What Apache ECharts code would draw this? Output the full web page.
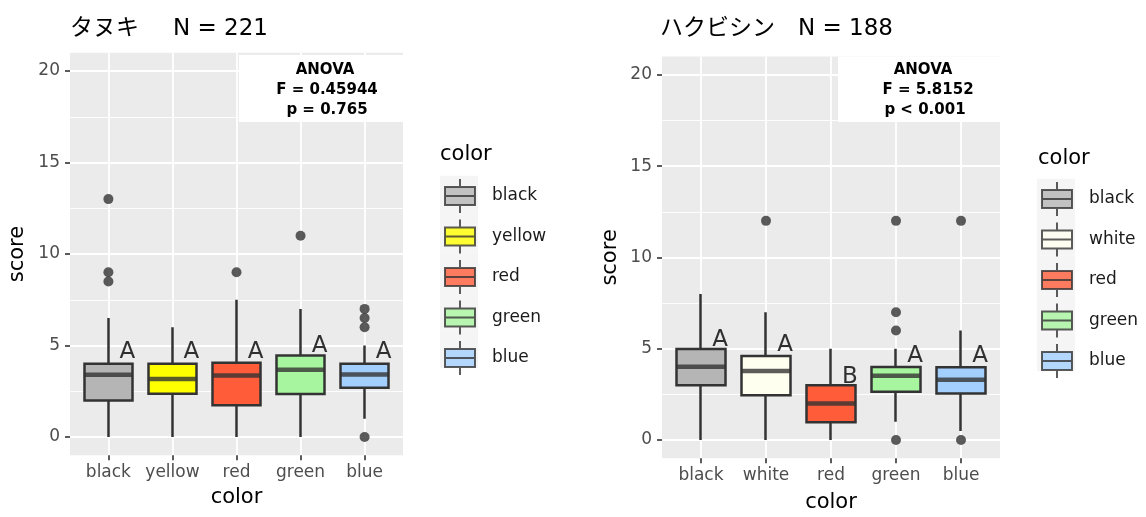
<!DOCTYPE html>
<html>
<head>
<meta charset="utf-8">
<script src="https://cdn.jsdelivr.net/npm/echarts@6/dist/echarts.min.js"></script>
<style>
  html, body { margin: 0; padding: 0; background: #fff; }
  #chart { width: 1146px; height: 517px; }
</style>
</head>
<body>
<div id="chart"></div>
<script>
// タヌキ (left panel)
const catsL = ['black', 'yellow', 'red', 'green', 'blue']
const fillL = ['#b5b5b5', '#ffff00', '#ff5c3a', '#a8f5a0', '#a3cfff']
const loL = [0, 0, 0, 0, 1]
const q1L = [2.0, 2.37, 1.73, 2.35, 2.69]
const medL = [3.4, 3.17, 3.36, 3.68, 3.42]
const q3L = [4.0, 4.0, 4.06, 4.46, 4.0]
const hiL = [6.5, 6, 7.5, 7, 5]
const outL = [[0, 13], [0, 9], [0, 8.5], [2, 9], [3, 11], [4, 7], [4, 6.5], [4, 6], [4, 0]]
const letterL = ['A', 'A', 'A', 'A', 'A']
const letterYL = [4.66, 4.66, 4.66, 4.97, 4.66]

// ハクビシン (right panel)
const catsR = ['black', 'white', 'red', 'green', 'blue']
const fillR = ['#b5b5b5', '#fffff0', '#ff5c3a', '#a8f5a0', '#a3cfff']
const loR = [0, 0, 0, 1, 0.5]
const q1R = [3.0, 2.45, 0.97, 2.64, 2.55]
const medR = [4.01, 3.78, 2.0, 3.52, 3.3]
const q3R = [4.98, 4.6, 3.0, 4.0, 3.98]
const hiR = [8, 7, 5, 5, 6]
const outR = [[1, 12], [3, 12], [3, 7], [3, 6], [3, 0], [4, 12], [4, 0]]
const letterR = ['A', 'A', 'B', 'A', 'A']
const letterYR = [5.47, 5.2, 3.47, 4.6, 4.6]

const yTicks = { min: 0, max: 20, interval: 5 }

const FONT = 'DejaVu Sans'
const JP = "'DejaVu Sans', 'Noto Sans CJK JP'"
const keyIcon = 'path://M15,0L15,8M0,8L30,8L30,26L0,26ZM0,17L30,17M15,26L15,34'

const chart = echarts.init(document.getElementById('chart'))

// three grids per panel: background, y scale (0-20), category scale
const panels = [
  { bg: { left: 70, top: 52.7, width: 333, height: 402.6 },
    ys: { left: 70, top: 71, width: 333, height: 366 },
    xs: { left: 108.4, top: 52.7, width: 256.2, height: 402.6 },
    nameGapY: 42, nameGapX: 32 },
  { bg: { left: 662, top: 56.5, width: 338, height: 401.8 },
    ys: { left: 662, top: 74.8, width: 338, height: 365.2 },
    xs: { left: 701, top: 56.5, width: 260, height: 401.8 },
    nameGapY: 41, nameGapX: 34 }
]

const grid = [], xAxis = [], yAxis = []
panels.forEach((p, k) => {
  const base = k * 3
  grid.push(Object.assign({ show: true, backgroundColor: '#ebebeb', borderWidth: 0, outerBoundsMode: 'none' }, p.bg))
  grid.push(Object.assign({ show: false, outerBoundsMode: 'none' }, p.ys))
  grid.push(Object.assign({ show: false, outerBoundsMode: 'none' }, p.xs))

  xAxis.push({ gridIndex: base, type: 'value', min: 0, max: 1, show: false })
  yAxis.push({ gridIndex: base, type: 'value', min: 0, max: 1, show: false })

  xAxis.push({ gridIndex: base + 1, type: 'value', min: 0, max: 1, show: false })
  yAxis.push({
    gridIndex: base + 1, type: 'value', min: yTicks.min, max: yTicks.max, interval: yTicks.interval,
    z: 1,
    axisLine: { show: false, onZero: false },
    axisTick: { show: true, length: 5, lineStyle: { color: '#333', width: 1.6 } },
    axisLabel: { color: '#4d4d4d', fontSize: 17, fontFamily: FONT, margin: 10 },
    splitLine: { show: true, lineStyle: { color: '#fff', width: 1.8 } },
    minorTick: { show: false, splitNumber: 2 },
    minorSplitLine: { show: true, lineStyle: { color: '#fff', width: 0.9 } },
    name: 'score', nameLocation: 'middle', nameGap: p.nameGapY,
    nameTextStyle: { fontSize: 21, color: '#000', fontFamily: FONT }
  })

  xAxis.push({
    gridIndex: base + 2, type: 'category', data: k === 0 ? catsL : catsR, boundaryGap: false,
    position: 'bottom', z: 1,
    axisLine: { show: false, onZero: false },
    axisTick: { show: true, length: 5, lineStyle: { color: '#333', width: 1.6 } },
    axisLabel: { color: '#4d4d4d', fontSize: 17, fontFamily: FONT, margin: 9, interval: 0 },
    splitLine: { show: true, lineStyle: { color: '#fff', width: 1.8 } },
    name: 'color', nameLocation: 'middle', nameGap: p.nameGapX,
    nameTextStyle: { fontSize: 21, color: '#000', fontFamily: FONT }
  })
  yAxis.push({ gridIndex: base + 2, type: 'value', min: -1, max: 21, show: false })
})

function panelSeries(k, cats, fills, lo, q1, med, q3, hi, outs, letters, letterY) {
  const ax = k * 3 + 2
  const list = []
  list.push({
    type: 'candlestick', xAxisIndex: ax, yAxisIndex: ax, barWidth: 49, clip: false, z: 3,
    data: cats.map((c, i) => ({
      value: [q1[i], q3[i], lo[i], hi[i]],
      itemStyle: { color: fills[i], color0: fills[i], borderColor: '#333', borderColor0: '#333', borderWidth: 2.5 }
    }))
  })
  list.push({
    type: 'scatter', xAxisIndex: ax, yAxisIndex: ax, clip: false, z: 4,
    symbol: 'rect', symbolSize: [49, 4.5], itemStyle: { color: '#333' },
    data: cats.map((c, i) => [i, med[i]])
  })
  list.push({
    type: 'scatter', xAxisIndex: ax, yAxisIndex: ax, clip: false, z: 4,
    symbolSize: 10, itemStyle: { color: '#333' },
    data: outs
  })
  list.push({
    type: 'scatter', xAxisIndex: ax, yAxisIndex: ax, clip: false, z: 5,
    symbolSize: 1, itemStyle: { color: 'rgba(0,0,0,0)' },
    label: {
      show: true, position: 'inside', offset: [19, 0],
      formatter: (p) => letters[p.dataIndex],
      fontSize: 23, color: '#000', fontFamily: FONT
    },
    data: cats.map((c, i) => [i, letterY[i]])
  })
  // legend entries
  cats.forEach((c, i) => {
    list.push({
      type: 'scatter', name: c, xAxisIndex: ax, yAxisIndex: ax,
      itemStyle: { color: fills[i] }, data: []
    })
  })
  return list
}

const series = [].concat(
  panelSeries(0, catsL, fillL, loL, q1L, medL, q3L, hiL, outL, letterL, letterYL),
  panelSeries(1, catsR, fillR, loR, q1R, medR, q3R, hiR, outR, letterR, letterYR)
)

function keyLegends(cats, left, top) {
  return [
    {
      orient: 'vertical', left: left - 4, top: top - 2.25, padding: 0,
      itemWidth: 38, itemHeight: 38.5, itemGap: 0, icon: 'rect',
      itemStyle: { color: '#f2f2f2', borderWidth: 0 },
      formatter: () => '', selectedMode: false, data: cats, z: 3
    },
    {
      orient: 'vertical', left: left, top: top, padding: 0,
      itemWidth: 30, itemHeight: 34, itemGap: 4.5, icon: keyIcon,
      itemStyle: { borderColor: '#333', borderWidth: 2 },
      textStyle: { fontSize: 17, color: '#1a1a1a', fontFamily: FONT, padding: [0, 0, 0, 12] },
      selectedMode: false, data: cats, z: 4
    }
  ]
}

const titleStyle = (size, fam) => ({ fontSize: size, fontWeight: 'normal', color: '#000', fontFamily: fam })

const option = {
  animation: false,
  title: [
    { text: 'タヌキ', left: 70, top: 18, padding: 0, textStyle: titleStyle(23, JP) },
    { text: 'N = 221', left: 173, top: 18, padding: 0, textStyle: titleStyle(23, FONT) },
    { text: 'ハクビシン', left: 660, top: 18, padding: 0, textStyle: titleStyle(23, JP) },
    { text: 'N = 188', left: 798, top: 18, padding: 0, textStyle: titleStyle(23, FONT) },
    { text: 'color', left: 440, top: 144, padding: 0, textStyle: titleStyle(21, FONT) },
    { text: 'color', left: 1038, top: 148, padding: 0, textStyle: titleStyle(21, FONT) }
  ],
  grid: grid,
  xAxis: xAxis,
  yAxis: yAxis,
  legend: [].concat(keyLegends(catsL, 444, 178), keyLegends(catsR, 1041, 181)),
  graphic: [
    { type: 'rect', z: 10, shape: { x: 239, y: 55, width: 164, height: 67 }, style: { fill: '#fff' } },
    { type: 'text', z: 11, style: { text: 'ANOVA', x: 325, y: 70, align: 'center', verticalAlign: 'middle', font: 'bold 15px "DejaVu Sans"', fill: '#000' } },
    { type: 'text', z: 11, style: { text: 'F = 0.45944', x: 327, y: 90, align: 'center', verticalAlign: 'middle', font: 'bold 15px "DejaVu Sans"', fill: '#000' } },
    { type: 'text', z: 11, style: { text: 'p = 0.765', x: 327, y: 110, align: 'center', verticalAlign: 'middle', font: 'bold 15px "DejaVu Sans"', fill: '#000' } },
    { type: 'rect', z: 10, shape: { x: 838, y: 56.5, width: 162, height: 65.5 }, style: { fill: '#fff' } },
    { type: 'text', z: 11, style: { text: 'ANOVA', x: 923, y: 70, align: 'center', verticalAlign: 'middle', font: 'bold 15px "DejaVu Sans"', fill: '#000' } },
    { type: 'text', z: 11, style: { text: 'F = 5.8152', x: 928, y: 90, align: 'center', verticalAlign: 'middle', font: 'bold 15px "DejaVu Sans"', fill: '#000' } },
    { type: 'text', z: 11, style: { text: 'p < 0.001', x: 925, y: 110, align: 'center', verticalAlign: 'middle', font: 'bold 15px "DejaVu Sans"', fill: '#000' } }
  ],
  series: series
}

chart.setOption(option)
</script>
</body>
</html>
